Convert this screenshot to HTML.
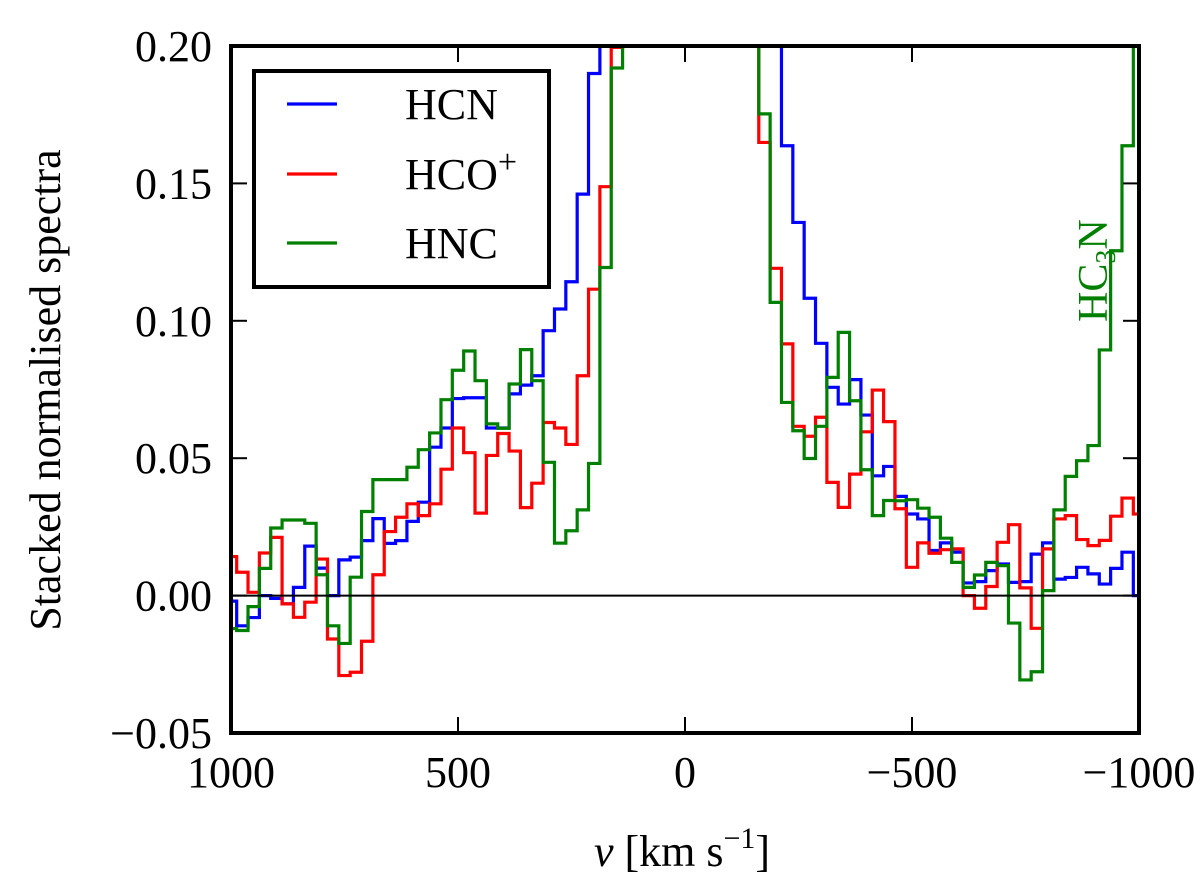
<!DOCTYPE html>
<html><head><meta charset="utf-8"><style>
html,body{margin:0;padding:0;background:#fff;}
svg{display:block;font-family:"Liberation Serif",serif;}
</style></head><body>
<svg id="chart" width="1200" height="895" viewBox="0 0 1200 895">
<defs><clipPath id="plotclip"><rect x="231" y="46" width="908" height="687"/></clipPath></defs>
<g id="series" clip-path="url(#plotclip)"></g>
<line id="zero" stroke="#000" stroke-width="2"/>
<g id="axes"></g>
<g>
<rect x="254" y="71" width="295" height="216" fill="#fff" stroke="#000" stroke-width="4"/>
<line x1="287" y1="104" x2="337" y2="104" stroke="#0000ff" stroke-width="3.2"/>
<text x="405" y="119" font-size="44">HCN</text>
<line x1="287" y1="174" x2="337" y2="174" stroke="#ff0000" stroke-width="3.2"/>
<text x="405" y="189" font-size="44">HCO<tspan dy="-16" font-size="34">+</tspan></text>
<line x1="287" y1="243" x2="337" y2="243" stroke="#008000" stroke-width="3.2"/>
<text x="405" y="258" font-size="44">HNC</text>
</g>
<text transform="translate(1107,322) rotate(-90)" font-size="42" fill="#008000">HC<tspan dy="8" font-size="28">3</tspan><tspan dy="-8">N</tspan></text>
<text transform="translate(60,390) rotate(-90)" text-anchor="middle" font-size="44">Stacked normalised spectra</text>
<text x="682" y="866" text-anchor="middle" font-size="44"><tspan font-style="italic">v</tspan> [km s<tspan dy="-18" font-size="30">−1</tspan><tspan dy="18">]</tspan></text>
</svg>
<script>
const H = 0.3;
const velocities = []; for (let k = 0; k <= 80; k++) velocities.push(1000 - 25 * k);
const hcn = [-0.002,-0.011,-0.008,0.000,-0.001,-0.003,0.003,0.018,0.010,0.000,0.013,0.014,0.020,0.028,0.019,0.020,0.027,0.034,0.054,0.061,0.0717,0.072,0.072,0.061,0.061,0.0734,0.0766,0.080,0.0964,0.1043,0.1142,0.1461,0.190,H,H,H,H,H,H,H,H,H,H,H,H,H,H,H,H,0.1637,0.1358,0.1082,0.0918,0.0758,0.0697,0.0786,0.0657,0.0436,0.0470,0.0361,0.0297,0.0279,0.0164,0.0192,0.0158,0.0046,0.0051,0.0091,0.0115,0.0048,0.0051,0.0151,0.0192,0.0060,0.0066,0.0103,0.0079,0.0042,0.0099,0.0158,0.000];
const hcop = [0.0142,0.0085,0.0012,0.0155,0.0212,-0.003,-0.0079,-0.0024,0.0133,-0.0158,-0.0291,-0.0279,-0.0166,0.0076,0.0233,0.0285,0.0334,0.0291,0.0334,0.046,0.061,0.052,0.030,0.051,0.059,0.0526,0.0320,0.0409,0.063,0.061,0.055,0.080,0.1115,0.1488,0.1995,H,H,H,H,H,H,H,H,H,H,H,H,0.1649,0.1191,0.0916,0.0616,0.0580,0.0649,0.0412,0.0321,0.0442,0.0596,0.0748,0.0633,0.0316,0.0103,0.0192,0.0154,0.0167,0.0170,0.000,-0.0046,0.0033,0.0194,0.0258,0.0028,-0.0119,0.0170,0.0279,0.0291,0.0204,0.0182,0.0201,0.0289,0.0355,0.0297];
const hnc = [-0.012,-0.0127,-0.004,0.0099,0.0246,0.0275,0.0275,0.0263,0.0076,-0.011,-0.0174,0.0067,0.0306,0.0422,0.0422,0.0422,0.0467,0.0531,0.0592,0.0713,0.082,0.089,0.0782,0.0625,0.0609,0.077,0.0895,0.0782,0.0485,0.0191,0.0236,0.0312,0.0481,0.1194,0.192,H,H,H,H,H,H,H,H,H,H,H,H,0.1753,0.1067,0.0703,0.0600,0.0499,0.0616,0.0794,0.0958,0.0709,0.0458,0.0291,0.0346,0.0345,0.0349,0.0318,0.0285,0.0209,0.0121,0.0030,0.0075,0.0121,0.0109,-0.0100,-0.0307,-0.0277,0.0018,0.0312,0.0434,0.0491,0.0546,0.0894,0.1255,0.1637,0.21];
const xTicks = [1000,500,0,-500,-1000];
const xTickLabels = ["1000","500","0","\u2212500","\u22121000"];
const yTicks = [-0.05,0,0.05,0.10,0.15,0.20];
const yTickLabels = ["\u22120.05","0.00","0.05","0.10","0.15","0.20"];

const L=231,R=1139,T=46,B=733;
const xs = v => L + (1000 - v) / 2000 * (R - L);
const ys = y => B - (y + 0.05) / 0.25 * (B - T);
const NS = "http://www.w3.org/2000/svg";
const g = document.getElementById('series');
function stepPath(vals){
  let d = '';
  const half = 12.5;
  vals.forEach((val,k)=>{
    const v = velocities[k];
    const x0 = xs(Math.min(1000, v + half)), x1 = xs(Math.max(-1000, v - half));
    const y = ys(val);
    d += (k===0 ? 'M' : 'L') + x0.toFixed(2) + ',' + y.toFixed(2) + 'L' + x1.toFixed(2) + ',' + y.toFixed(2);
  });
  return d;
}
[[hcn,'#0000ff','hcn-line'],[hcop,'#ff0000','hcop-line'],[hnc,'#008000','hnc-line']].forEach(([vals,c,n])=>{
  const p = document.createElementNS(NS,'path');
  p.setAttribute('d', stepPath(vals));
  p.setAttribute('fill','none'); p.setAttribute('stroke',c); p.setAttribute('stroke-width','3.2');
  
  
  g.appendChild(p);
});
const z = document.getElementById('zero');
z.setAttribute('x1',L); z.setAttribute('x2',R); z.setAttribute('y1',ys(0)); z.setAttribute('y2',ys(0));
const ax = document.getElementById('axes');
function mk(tag, attrs){ const e=document.createElementNS(NS,tag); for(const k in attrs) e.setAttribute(k,attrs[k]); ax.appendChild(e); return e; }
xTicks.forEach((v,i)=>{
  const x = xs(v);
  const t1 = mk('line',{x1:x,x2:x,y1:T,y2:T+16,stroke:'#000','stroke-width':2});
  
  
  const t2 = mk('line',{x1:x,x2:x,y1:B,y2:B-16,stroke:'#000','stroke-width':2});
  
  
  const tx = mk('text',{x:x,y:787,'text-anchor':'middle','font-size':44});
  tx.textContent = xTickLabels[i];
  
  
});
yTicks.forEach((v,i)=>{
  const y = ys(v);
  const t1 = mk('line',{x1:L,x2:L+16,y1:y,y2:y,stroke:'#000','stroke-width':2});
  
  
  const t2 = mk('line',{x1:R,x2:R-16,y1:y,y2:y,stroke:'#000','stroke-width':2});
  
  
  const tx = mk('text',{x:212,y:y+15,'text-anchor':'end','font-size':44});
  tx.textContent = yTickLabels[i];
  
  
});
const fr = mk('rect',{x:L,y:T,width:R-L,height:B-T,fill:'none',stroke:'#000','stroke-width':4});


</script>
</body></html>
